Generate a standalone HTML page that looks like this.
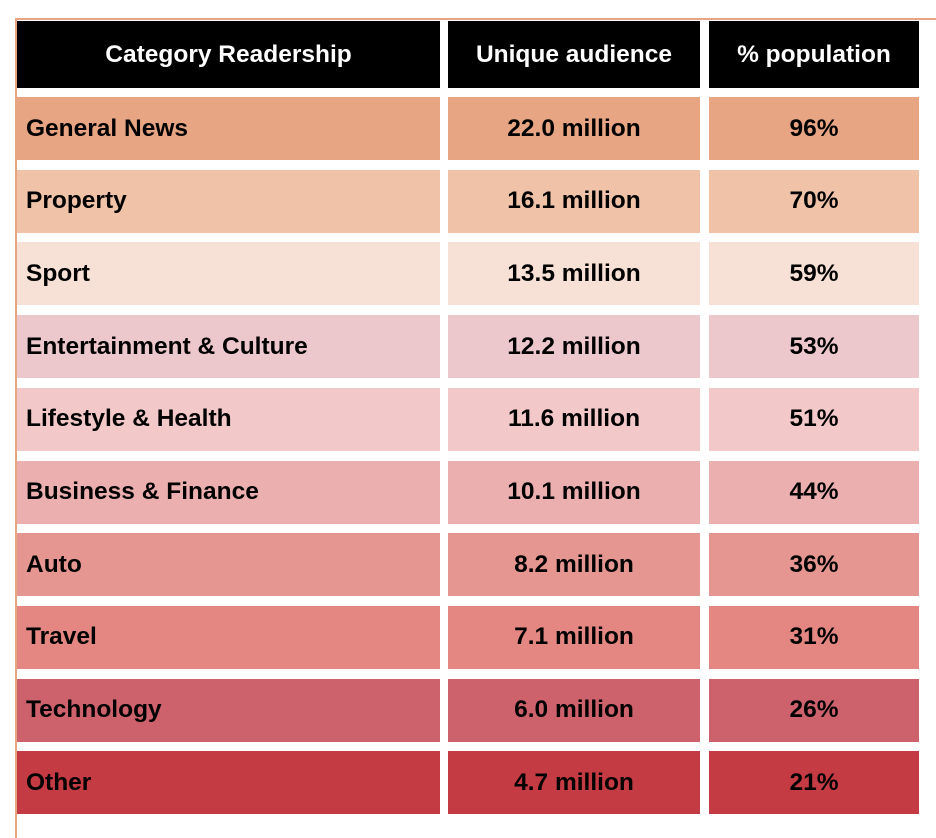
<!DOCTYPE html>
<html><head><meta charset="utf-8"><style>
body{margin:0;width:936px;height:838px;background:#fff;position:relative;overflow:hidden;font-family:"Liberation Sans",sans-serif;font-weight:bold}
.c{position:absolute;display:flex;align-items:center;font-size:24.5px;color:#000;box-sizing:border-box}
.h{background:#000;color:#fff;justify-content:center;top:21px;height:67px}
.l{padding-left:9px}.m{justify-content:center}
</style></head><body>
<div style="position:absolute;left:15px;top:18px;width:921px;height:2px;background:#E8A583"></div>
<div style="position:absolute;left:15px;top:18px;width:2px;height:820px;background:#E8A583"></div>
<div class="c h" style="left:17px;width:423px">Category Readership</div>
<div class="c h" style="left:448px;width:252px">Unique audience</div>
<div class="c h" style="left:709px;width:210px">% population</div>
<div id="rows"></div>
<script>
const categories=["General News","Property","Sport","Entertainment & Culture","Lifestyle & Health","Business & Finance","Auto","Travel","Technology","Other"];
const audience=["22.0 million","16.1 million","13.5 million","12.2 million","11.6 million","10.1 million","8.2 million","7.1 million","6.0 million","4.7 million"];
const population=["96%","70%","59%","53%","51%","44%","36%","31%","26%","21%"];
const colors=["#E8A583","#F0C3A9","#F7E0D6","#ECC8CD","#F2C9C8","#EBAFAF","#E69690","#E48782","#CD626D","#C53B44"];
const cols=[[17,423,"l"],[448,252,"m"],[709,210,"m"]];
categories.forEach((cat,i)=>{
  const top=97+i*72.7;
  const vals=[cat,audience[i],population[i]];
  cols.forEach((c,j)=>{
    const d=document.createElement('div');
    d.className='c '+c[2];
    d.style.cssText=`left:${c[0]}px;width:${c[1]}px;top:${top}px;height:63px;background:${colors[i]}`;
    d.textContent=vals[j];
    
    
    document.body.appendChild(d);
  });
});
</script>
</body></html>
